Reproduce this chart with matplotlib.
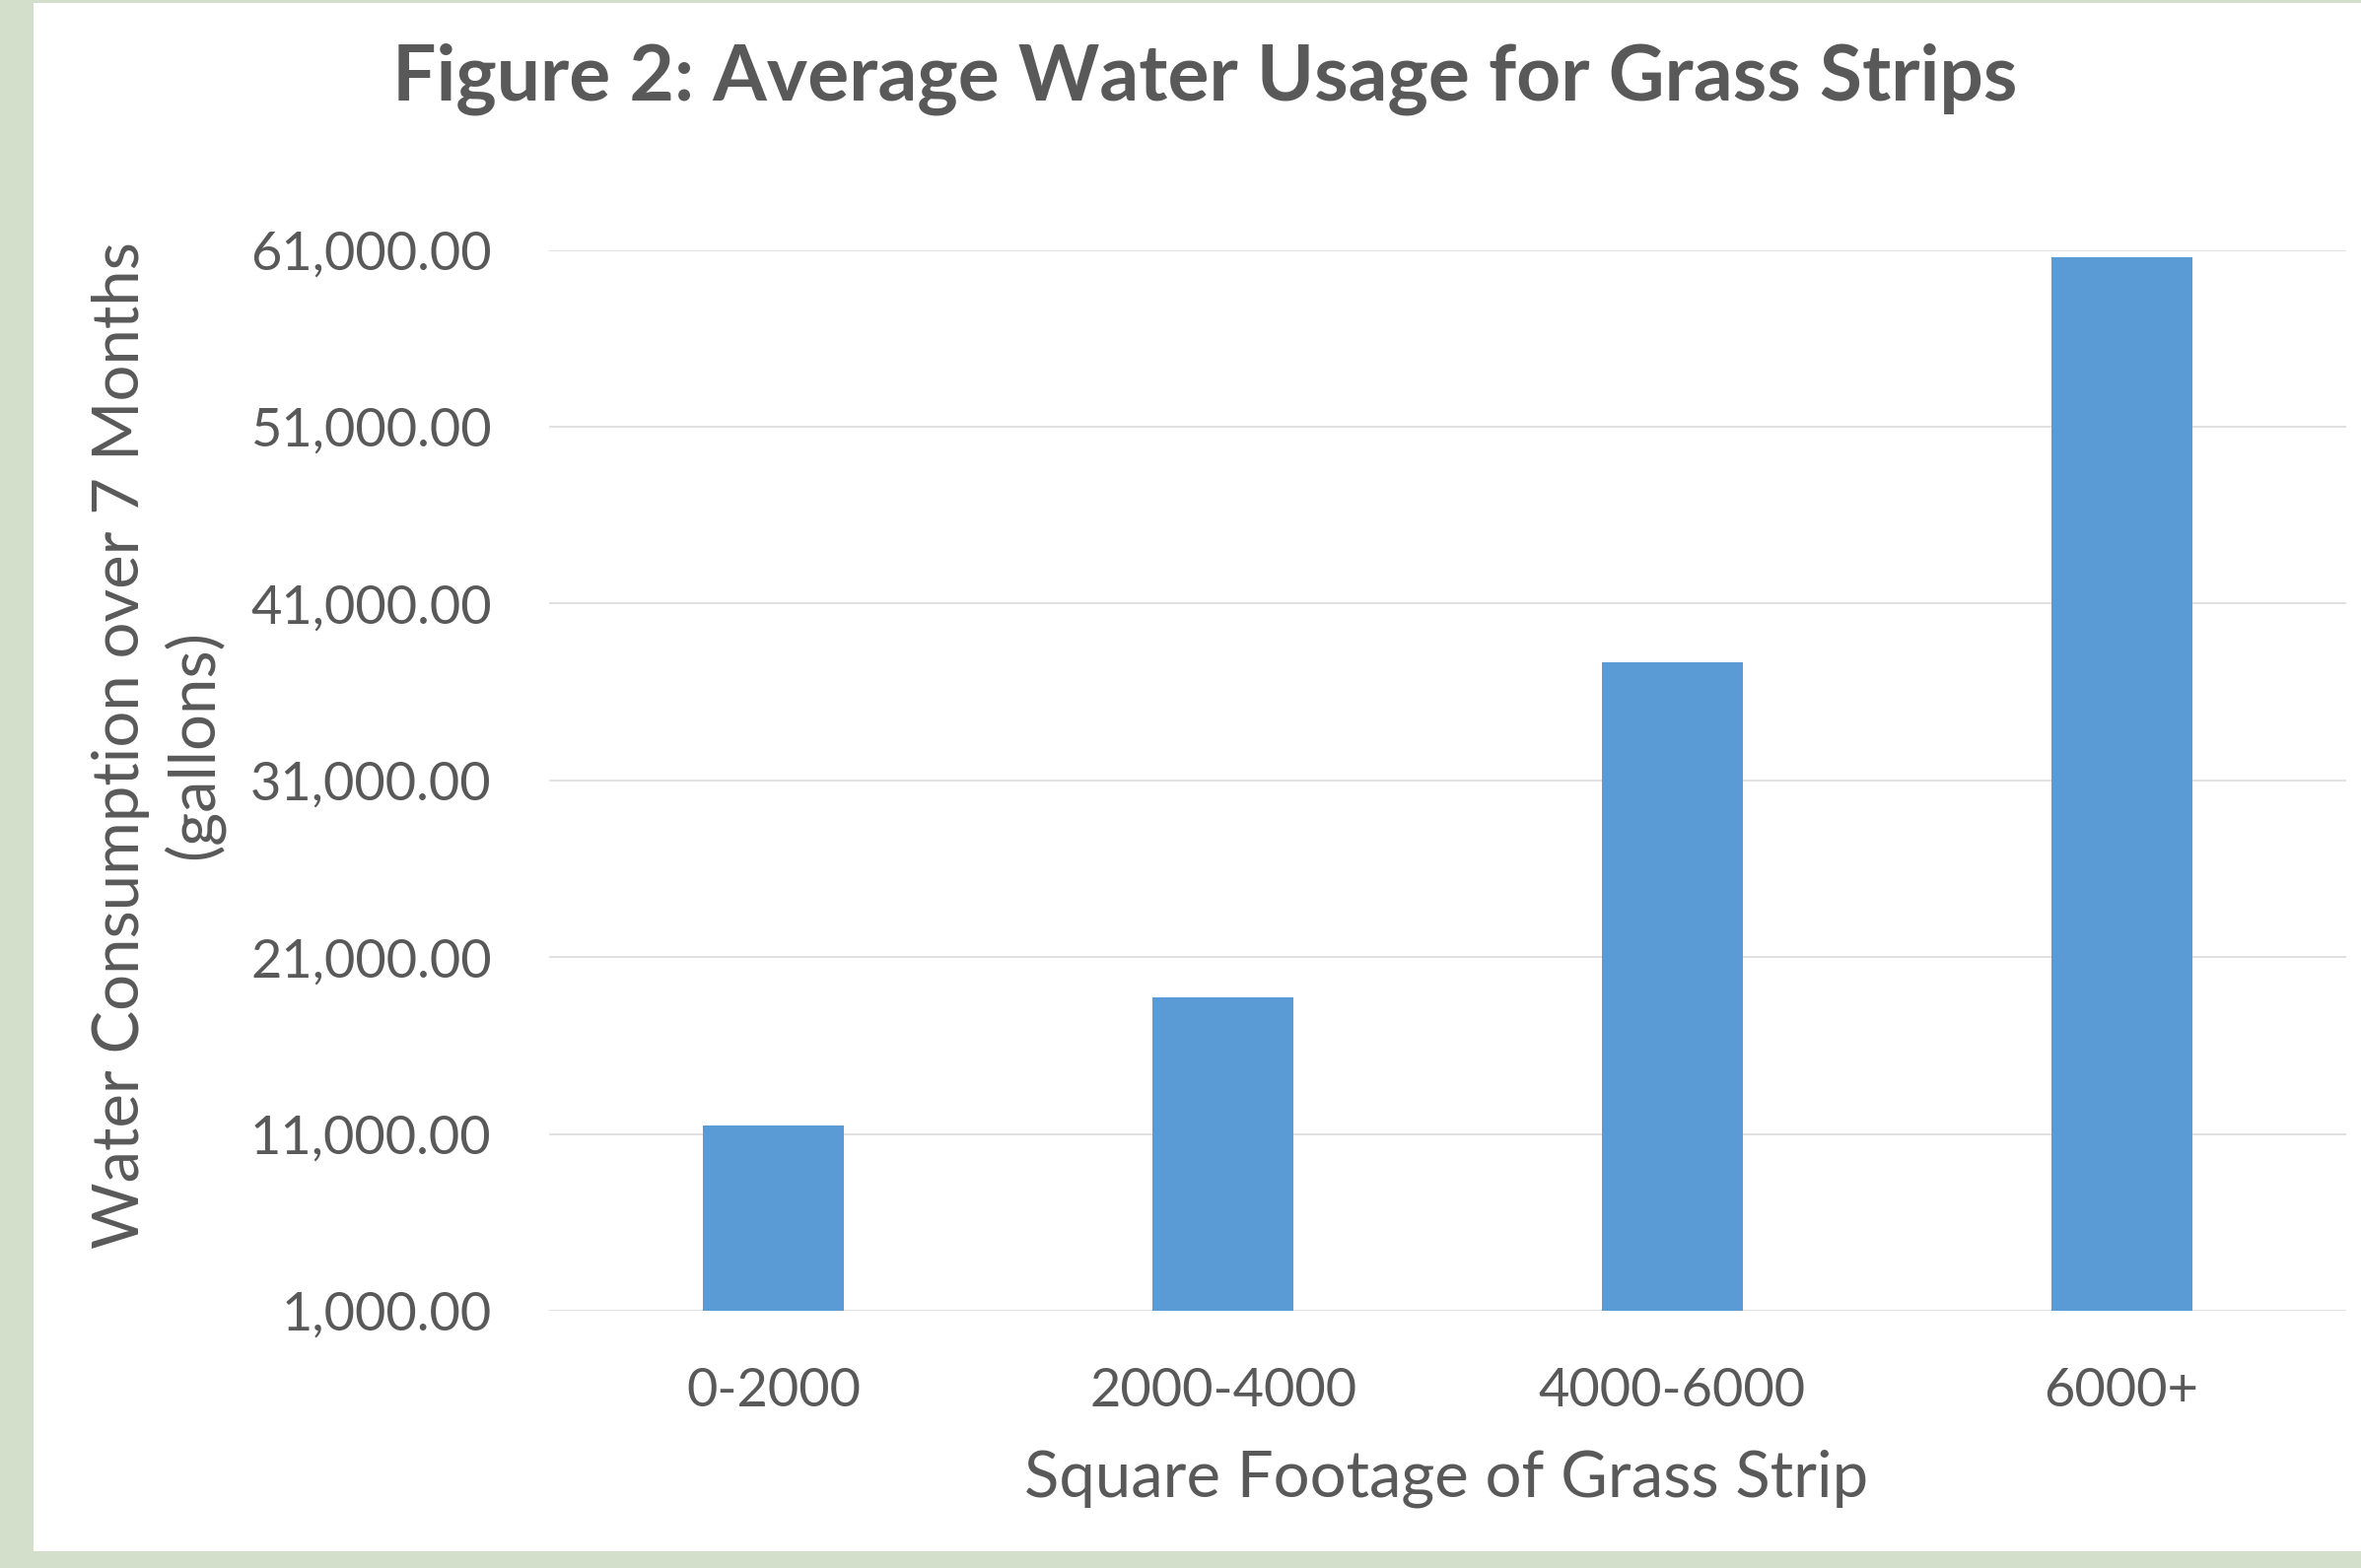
import matplotlib
matplotlib.use("Agg")
import matplotlib.pyplot as plt
from matplotlib.patches import Rectangle
from matplotlib.ticker import FuncFormatter

plt.rcParams['font.family'] = ['Lato', 'DejaVu Sans']

# Data
categories = ["0-2000", "2000-4000", "4000-6000", "6000+"]
water_gallons = [11460, 18730, 37700, 60590]
y_ticks = [1000, 11000, 21000, 31000, 41000, 51000, 61000]

title = "Figure 2: Average Water Usage for Grass Strips"
x_label = "Square Footage of Grass Strip"
y_label = "Water Consumption over 7 Months\n(gallons)"

TEXT = "#595959"
BAR = "#5B9BD5"
GRID = "#D9D9D9"
FRAME = "#D3DECB"

W, H, DPI = 2395, 1591, 100
fig = plt.figure(figsize=(W / DPI, H / DPI), dpi=DPI, facecolor=FRAME)

# white chart panel inside the green frame
fig.patches.append(Rectangle((34 / W, (H - 1574) / H), 1 - 34 / W, (1574 - 3) / H,
                             transform=fig.transFigure, facecolor="white",
                             edgecolor="none", zorder=-5))

ax = fig.add_axes([557 / W, (H - 1330) / H, (2380 - 557) / W, (1330 - 253.7) / H])
ax.set_zorder(2)
ax.set_facecolor("none")

x = range(len(categories))
bottoms = [y_ticks[0]] * len(categories)
heights = [v - b for v, b in zip(water_gallons, bottoms)]
ax.bar(x, heights, bottom=bottoms, width=0.314, color=BAR, zorder=3)

ax.set_xlim(-0.5, len(categories) - 0.5)
ax.set_ylim(y_ticks[0], y_ticks[-1])
ax.set_yticks(y_ticks)
ax.yaxis.set_major_formatter(FuncFormatter(lambda v, p: f"{v:,.2f}"))
ax.set_xticks(list(x))
ax.set_xticklabels(categories)

ax.grid(axis="y", color=GRID, linewidth=1.1, zorder=0)
ax.set_axisbelow(True)
for s in ax.spines.values():
    s.set_visible(False)
ax.tick_params(axis="both", length=0, colors=TEXT, labelsize=39)
ax.tick_params(axis="y", pad=42)
ax.tick_params(axis="x", pad=41)

fig.text(1222 / W, 1 - 80 / H, title, ha="center", va="center",
         fontsize=56.5, fontweight="bold", color=TEXT)
fig.text(1467 / W, 1 - 1500 / H, x_label, ha="center", va="center",
         fontsize=47, color=TEXT)
fig.text(160 / W, 1 - 756 / H, y_label, ha="center", va="center",
         rotation=90, fontsize=47, color=TEXT, linespacing=1.24,
         multialignment="center")

fig.savefig("out.png", dpi=DPI, facecolor=FRAME)
